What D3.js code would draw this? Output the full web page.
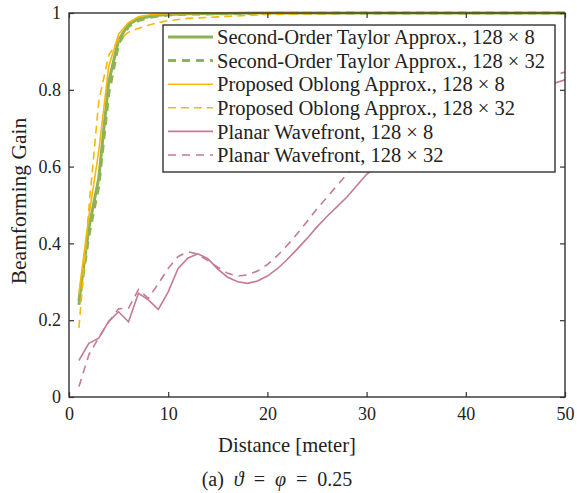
<!DOCTYPE html>
<html>
<head>
<meta charset="utf-8">
<script src="https://cdn.jsdelivr.net/npm/d3@7"></script>
<style>
  body { margin: 0; background: #fff; }
</style>
</head>
<body>
<div id="chart"></div>
<script>
const FONT = 'Liberation Serif'

// distances (meter) sampled for the approximation curves
const nearDist = [1, 2, 3, 4, 5, 6, 7, 8, 9, 10, 12, 15, 20, 30, 40, 50]
const taylor8 = [0.25, 0.44, 0.57, 0.82, 0.93, 0.97, 0.985, 0.99, 0.994, 0.996, 0.998, 0.999, 1, 1, 1, 1]
const taylor32 = [0.24, 0.42, 0.55, 0.79, 0.92, 0.965, 0.98, 0.988, 0.992, 0.995, 0.997, 0.998, 0.999, 1, 1, 1]
const oblong8 = [0.27, 0.47, 0.64, 0.86, 0.945, 0.975, 0.99, 0.995, 0.997, 0.998, 0.999, 1, 1, 1, 1, 1]
const oblong32 = [0.18, 0.49, 0.77, 0.89, 0.93, 0.95, 0.96, 0.968, 0.975, 0.98, 0.986, 0.99, 0.996, 1, 1, 1]

// planar wavefront curves
const planarDist = [1, 2, 3, 4, 5, 6, 7, 8, 9, 10, 11, 12, 13, 14, 15, 16, 17, 18, 19, 20,
  21, 22, 23, 24, 25, 26, 27, 28, 29, 30, 32, 35, 40, 45, 50]
const planar8 = [0.095, 0.14, 0.153, 0.197, 0.222, 0.196, 0.27, 0.253, 0.228, 0.274, 0.335, 0.362,
  0.373, 0.36, 0.333, 0.312, 0.3, 0.296, 0.302, 0.315, 0.334, 0.358, 0.385, 0.413, 0.443, 0.47,
  0.495, 0.52, 0.55, 0.58, 0.62, 0.67, 0.73, 0.785, 0.826]
const planar32 = [0.027, 0.11, 0.155, 0.195, 0.23, 0.231, 0.28, 0.257, 0.295, 0.335, 0.366, 0.378,
  0.372, 0.355, 0.338, 0.322, 0.315, 0.318, 0.328, 0.345, 0.368, 0.395, 0.425, 0.457, 0.49, 0.52,
  0.55, 0.58, 0.61, 0.635, 0.67, 0.71, 0.77, 0.815, 0.846]

const xTicks = [0, 10, 20, 30, 40, 50]
const yTicks = [0, 0.2, 0.4, 0.6, 0.8, 1]

const seriesNames = [
  'Second-Order Taylor Approx., 128 × 8',
  'Second-Order Taylor Approx., 128 × 32',
  'Proposed Oblong Approx., 128 × 8',
  'Proposed Oblong Approx., 128 × 32',
  'Planar Wavefront, 128 × 8',
  'Planar Wavefront, 128 × 32'
]

const green = '#8db354', orange = '#f7b80c', pink = '#c47b93'
const series = [
  { name: seriesNames[0], xs: nearDist, ys: taylor8, color: green, width: 3, dash: null },
  { name: seriesNames[1], xs: nearDist, ys: taylor32, color: green, width: 3, dash: '8,6' },
  { name: seriesNames[2], xs: nearDist, ys: oblong8, color: orange, width: 1.6, dash: null },
  { name: seriesNames[3], xs: nearDist, ys: oblong32, color: orange, width: 1.6, dash: '8,5' },
  { name: seriesNames[4], xs: planarDist, ys: planar8, color: pink, width: 1.6, dash: null },
  { name: seriesNames[5], xs: planarDist, ys: planar32, color: pink, width: 1.6, dash: '8,6' }
]

const W = 577, H = 493
const m = { left: 69, right: 12, top: 13, bottom: 96 }
const iw = W - m.left - m.right, ih = H - m.top - m.bottom

const svg = d3.select('#chart').append('svg').attr('width', W).attr('height', H)

const x = d3.scaleLinear().domain([0, 50]).range([m.left, m.left + iw])
const y = d3.scaleLinear().domain([0, 1]).range([m.top + ih, m.top])

svg.append('clipPath').attr('id', 'clip')
  .append('rect').attr('x', m.left).attr('y', m.top - 2).attr('width', iw).attr('height', ih + 2)

// data lines
const line = d3.line().x(d => x(d[0])).y(d => y(d[1]))
const plot = svg.append('g').attr('clip-path', 'url(#clip)')
series.forEach(s => {
  plot.append('path')
    .datum(s.xs.map((v, i) => [v, s.ys[i]]))
    .attr('d', line)
    .attr('fill', 'none')
    .attr('stroke', s.color)
    .attr('stroke-width', s.width)
    .attr('stroke-dasharray', s.dash)
})

// axes: ticks pointing inward on all four sides
const axisStyle = g => {
  g.attr('font-family', FONT).attr('font-size', 18)
  g.select('.domain').remove()
  g.selectAll('line').attr('stroke', '#333').attr('stroke-width', 1.2)
  g.selectAll('text').attr('fill', '#222')
}
svg.append('g').attr('transform', `translate(0,${m.top + ih})`)
  .call(d3.axisBottom(x).tickValues(xTicks).tickSize(-5).tickPadding(10).tickFormat(d3.format('d')))
  .call(axisStyle)
svg.append('g').attr('transform', `translate(0,${m.top})`)
  .call(d3.axisTop(x).tickValues(xTicks).tickSize(-5).tickFormat(''))
  .call(axisStyle)
svg.append('g').attr('transform', `translate(${m.left},0)`)
  .call(d3.axisLeft(y).tickValues(yTicks).tickSize(-5).tickPadding(8).tickFormat(d => d === 0 || d === 1 ? d : d.toFixed(1)))
  .call(axisStyle)
svg.append('g').attr('transform', `translate(${m.left + iw},0)`)
  .call(d3.axisRight(y).tickValues(yTicks).tickSize(-5).tickFormat(''))
  .call(axisStyle)

svg.append('rect')
  .attr('x', m.left).attr('y', m.top).attr('width', iw).attr('height', ih)
  .attr('fill', 'none').attr('stroke', '#333').attr('stroke-width', 1.4)

// axis titles
svg.append('text')
  .attr('x', 287).attr('y', 452)
  .attr('text-anchor', 'middle').attr('font-family', FONT).attr('font-size', 20.6).attr('fill', '#222')
  .text('Distance [meter]')
svg.append('text')
  .attr('transform', `translate(26,${m.top + ih / 2 - 4}) rotate(-90)`)
  .attr('text-anchor', 'middle').attr('font-family', FONT).attr('font-size', 21.5).attr('fill', '#222')
  .text('Beamforming Gain')

// caption
const cap = svg.append('text')
  .attr('x', 277).attr('y', 486)
  .attr('text-anchor', 'middle').attr('font-family', FONT).attr('font-size', 20).attr('fill', '#222')
cap.append('tspan').text('(a)\u2002')
cap.append('tspan').attr('font-style', 'italic').text('ϑ')
cap.append('tspan').text('\u2002=\u2002')
cap.append('tspan').attr('font-style', 'italic').text('φ')
cap.append('tspan').text('\u2002=\u20020.25')

// legend
const lg = svg.append('g')
lg.append('rect')
  .attr('x', 163).attr('y', 25).attr('width', 392).attr('height', 147)
  .attr('fill', '#fff').attr('stroke', '#333').attr('stroke-width', 1.4)
series.forEach((s, i) => {
  const cy = 37 + i * 23.6
  lg.append('line')
    .attr('x1', 168).attr('x2', 213).attr('y1', cy).attr('y2', cy)
    .attr('stroke', s.color).attr('stroke-width', s.width)
    .attr('stroke-dasharray', s.dash)
  lg.append('text')
    .attr('x', 217).attr('y', cy).attr('dy', '0.35em')
    .attr('font-family', FONT).attr('font-size', 20.5).attr('fill', '#222')
    .text(s.name)
})
</script>
</body>
</html>
